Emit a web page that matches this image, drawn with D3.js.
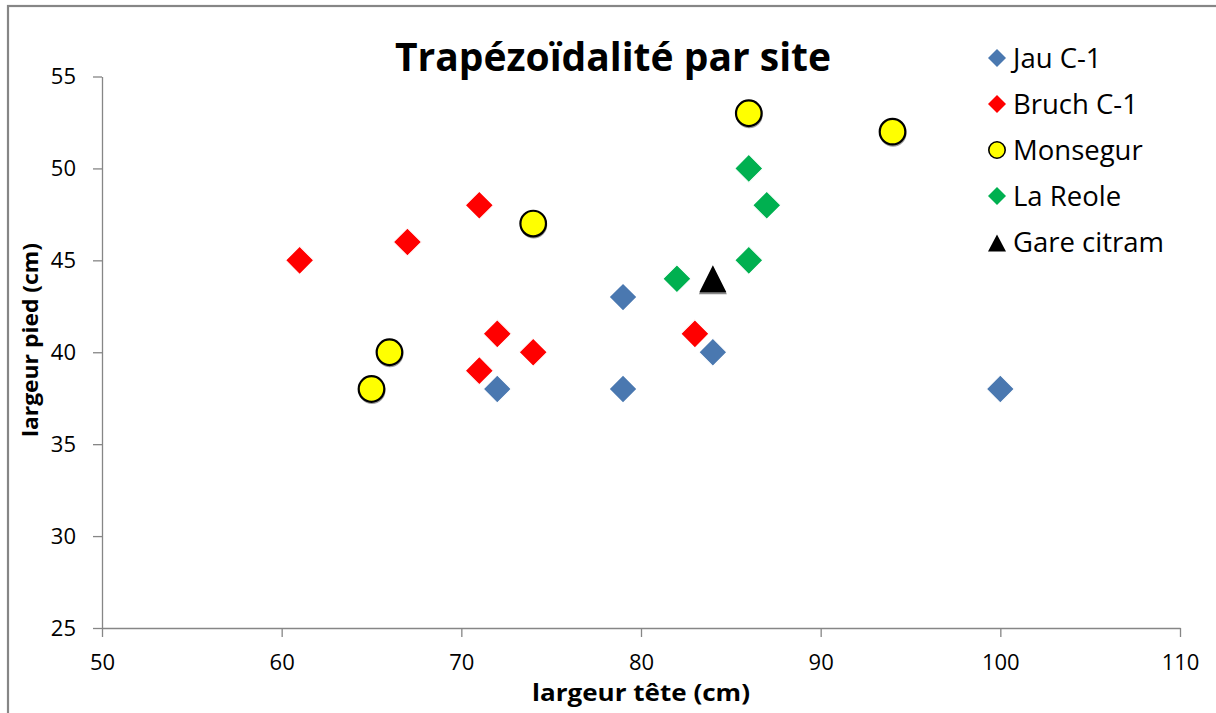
<!DOCTYPE html>
<html><head><meta charset="utf-8">
<script src="https://cdn.jsdelivr.net/npm/d3@7"></script>
<style>html,body{margin:0;padding:0;background:#fff;}svg{display:block;}</style>
</head><body>
<script>
const seriesNames = ["Jau C-1","Bruch C-1","Monsegur","La Reole","Gare citram"];
const jauX = [72,79,79,84,100];
const jauY = [38,43,38,40,38];
const bruchX = [61,67,71,72,71,74,83];
const bruchY = [45,46,48,41,39,40,41];
const monsegurX = [65,66,74,86,94];
const monsegurY = [38,40,47,53,52];
const reoleX = [82,86,87,86];
const reoleY = [44,50,48,45];
const gareX = [84];
const gareY = [44];
const xTicks = [50,60,70,80,90,100,110];
const yTicks = [25,30,35,40,45,50,55];
const titleText = "Trapézoïdalité par site";
const xTitle = "largeur tête (cm)";
const yTitle = "largeur pied (cm)";

const W = 1216, H = 713;
const FONT = "'Open Sans', 'Noto Sans', sans-serif";
const AX = "#868686";
const svg = d3.select("body").append("svg").attr("width", W).attr("height", H);

svg.append("rect").attr("x",8).attr("y",6).attr("width",W+10).attr("height",H+10)
  .attr("fill","#fff").attr("stroke",AX).attr("stroke-width",2.2);

const x = d3.scaleLinear().domain([50,110]).range([102,1180]);
const y = d3.scaleLinear().domain([25,55]).range([628,76.5]);

// axes
const gx = svg.append("g").attr("transform",`translate(0,${y(25)})`)
  .call(d3.axisBottom(x).tickValues(xTicks).tickSize(9).tickPadding(17).tickSizeOuter(0));
const gy = svg.append("g").attr("transform",`translate(${x(50)},0)`)
  .call(d3.axisLeft(y).tickValues(yTicks).tickSize(9).tickPadding(17).tickSizeOuter(0));
[gx,gy].forEach(g=>{
  g.select(".domain").attr("stroke",AX).attr("stroke-width",1.3);
  g.selectAll(".tick line").attr("stroke",AX).attr("stroke-width",1.3);
  g.selectAll(".tick text").attr("fill","#000").style("font-family",FONT).style("font-size","22px");
});
gx.selectAll(".tick text").attr("dy","0.71em");

// title
svg.append("text").attr("x",613).attr("y",71).attr("text-anchor","middle")
  .attr("textLength",436).attr("lengthAdjust","spacingAndGlyphs")
  .style("font-family",FONT).style("font-weight","700").style("font-size","39px").text(titleText);
// x title
svg.append("text").attr("x",(x(50)+x(110))/2).attr("y",701).attr("text-anchor","middle")
  .attr("textLength",218).attr("lengthAdjust","spacingAndGlyphs")
  .style("font-family",FONT).style("font-weight","700").style("font-size","23px").text(xTitle);
// y title
svg.append("text").attr("transform",`translate(38,340) rotate(-90)`).attr("text-anchor","middle")
  .attr("textLength",194).attr("lengthAdjust","spacingAndGlyphs")
  .style("font-family",FONT).style("font-weight","700").style("font-size","22px").text(yTitle);

// marker helpers
function diamondPath(across){ const s = across/Math.SQRT2; return d3.symbol(d3.symbolSquare, s*s)(); }
function triPath(w,h){ return `M0,${-h/2}L${w/2},${h/2}L${-w/2},${h/2}Z`; }

const plot = svg.append("g");
function pts(xs,ys){ return xs.map((v,i)=>({x:v,y:ys[i]})); }

// Bruch
plot.selectAll(".bruch").data(pts(bruchX,bruchY)).join("path")
  .attr("d",diamondPath(28)).attr("transform",d=>`translate(${x(d.x)},${y(d.y)}) rotate(45)`)
  .attr("fill","#FF0000").attr("stroke","#fff").attr("stroke-width",1);
// Jau
plot.selectAll(".jau").data(pts(jauX,jauY)).join("path")
  .attr("d",diamondPath(28)).attr("transform",d=>`translate(${x(d.x)},${y(d.y)}) rotate(45)`)
  .attr("fill","#4A78B0").attr("stroke","#fff").attr("stroke-width",1.2);
// Reole
plot.selectAll(".reole").data(pts(reoleX,reoleY)).join("path")
  .attr("d",diamondPath(28)).attr("transform",d=>`translate(${x(d.x)},${y(d.y)}) rotate(45)`)
  .attr("fill","#00B050").attr("stroke","#fff").attr("stroke-width",1);
// Monsegur
const mg = plot.selectAll(".mons").data(pts(monsegurX,monsegurY)).join("g")
  .attr("transform",d=>`translate(${x(d.x)},${y(d.y)})`);
mg.append("circle").attr("cx",0.5).attr("cy",1.5).attr("r",13.5).attr("fill","#9a9a9a");
mg.append("circle").attr("r",12.8).attr("fill","#FFFF00").attr("stroke","#000").attr("stroke-width",2.2);
// Gare
const gg = plot.selectAll(".gare").data(pts(gareX,gareY)).join("g")
  .attr("transform",d=>`translate(${x(d.x)},${y(d.y)})`);
gg.append("path").attr("d",triPath(28,28)).attr("transform","translate(0,1.5)").attr("fill","#888");
gg.append("path").attr("d",triPath(27,27)).attr("fill","#000");

// legend
const legY0 = 58, legStep = 46, legMX = 997, legTX = 1013;
const leg = svg.append("g");
const items = leg.selectAll("g").data(seriesNames).join("g")
  .attr("transform",(d,i)=>`translate(${legMX},${legY0+i*legStep})`);
items.each(function(d,i){
  const g = d3.select(this);
  if(i===0||i===1||i===3){
    g.append("path").attr("d",diamondPath(18)).attr("transform","rotate(45)")
      .attr("fill",["#4A78B0","#FF0000",null,"#00B050"][i]);
  } else if(i===2){
    g.append("circle").attr("r",8.2).attr("fill","#FFFF00").attr("stroke","#000").attr("stroke-width",1.6);
  } else {
    g.append("path").attr("d",triPath(18,17)).attr("transform","translate(0,1)").attr("fill","#000");
  }
  g.append("text").attr("x",legTX-legMX).attr("y",9.5)
    .style("font-family",FONT).style("font-size","27.5px").attr("fill","#000").text(d);
});
</script>
</body></html>
